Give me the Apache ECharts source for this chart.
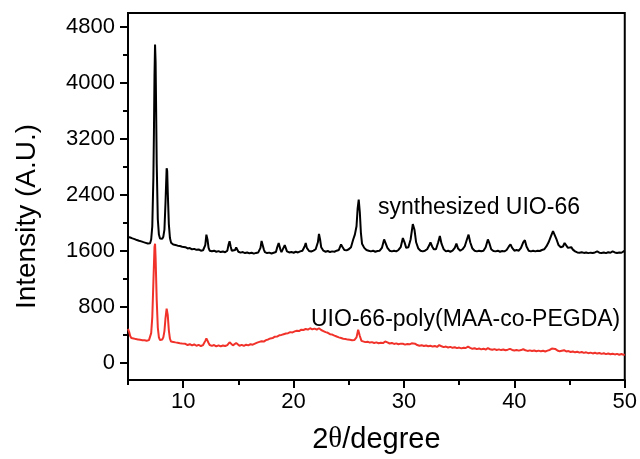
<!DOCTYPE html>
<html>
<head>
<meta charset="utf-8">
<script src="https://cdn.jsdelivr.net/npm/echarts@6/dist/echarts.min.js"></script>
<style>
html,body{margin:0;padding:0;background:#fff;}
#chart{width:640px;height:459px;}
</style>
</head>
<body>
<div id="chart"></div>
<script>
// 2theta (degree) and intensity pairs
const synthesizedUIO66 = [
[5.0,1795],[5.1,1780],[5.2,1788],[5.3,1770],[5.4,1776],[5.5,1760],[5.6,1765],[5.7,1748],[5.8,1752],[5.9,1738],
[6.0,1742],[6.1,1728],[6.2,1733],[6.3,1718],[6.4,1722],[6.5,1706],[6.6,1712],[6.7,1698],[6.8,1702],[6.9,1690],
[7.0,1705],[7.1,1760],[7.2,1950],[7.3,2650],[7.35,3300],[7.4,4100],[7.45,4550],[7.5,4300],[7.55,3600],[7.6,2850],
[7.7,2050],[7.8,1830],[7.9,1775],[8.0,1760],[8.1,1770],[8.2,1800],[8.3,1900],[8.4,2300],[8.5,2780],[8.55,2740],
[8.6,2450],[8.7,1980],[8.8,1780],[8.9,1715],[9.0,1695],[9.1,1688],[9.2,1676],[9.3,1682],[9.4,1668],[9.5,1672],
[9.6,1660],[9.7,1666],[9.8,1650],[9.9,1656],[10.0,1645],[10.2,1650],[10.4,1632],[10.6,1638],[10.8,1620],[11.0,1626],
[11.2,1612],[11.4,1618],[11.6,1600],[11.8,1606],[11.9,1610],[12.0,1680],[12.1,1830],[12.2,1760],[12.3,1640],[12.4,1600],
[12.6,1592],[12.8,1600],[13.0,1585],[13.2,1594],[13.4,1580],[13.6,1588],[13.8,1578],[14.0,1600],[14.1,1680],[14.2,1735],
[14.3,1660],[14.4,1600],[14.5,1590],[14.7,1610],[14.8,1645],[14.9,1620],[15.0,1585],[15.2,1572],[15.4,1580],[15.6,1566],
[15.8,1574],[16.0,1562],[16.2,1570],[16.4,1558],[16.6,1568],[16.8,1575],[17.0,1640],[17.1,1740],[17.2,1720],[17.3,1620],
[17.4,1580],[17.6,1566],[17.8,1572],[18.0,1560],[18.2,1570],[18.4,1580],[18.5,1640],[18.65,1710],[18.8,1620],[18.9,1580],
[19.0,1600],[19.2,1680],[19.3,1660],[19.4,1590],[19.6,1575],[19.8,1582],[20.0,1570],[20.2,1585],[20.4,1575],[20.6,1590],
[20.8,1600],[21.0,1660],[21.1,1710],[21.2,1640],[21.4,1595],[21.6,1588],[21.8,1600],[22.0,1620],[22.2,1720],[22.3,1840],
[22.4,1760],[22.5,1650],[22.7,1600],[22.9,1585],[23.1,1595],[23.3,1580],[23.5,1590],[23.7,1585],[23.9,1600],[24.1,1610],
[24.3,1690],[24.4,1660],[24.6,1610],[24.8,1605],[25.0,1620],[25.2,1650],[25.4,1760],[25.55,1830],[25.7,1950],[25.8,2200],
[25.9,2330],[26.0,2150],[26.1,1850],[26.2,1700],[26.4,1640],[26.6,1610],[26.8,1600],[27.0,1590],[27.2,1600],[27.4,1585],
[27.6,1595],[27.8,1600],[28.0,1640],[28.2,1760],[28.35,1740],[28.5,1640],[28.7,1600],[28.9,1590],[29.1,1600],[29.3,1590],
[29.5,1610],[29.7,1650],[29.9,1780],[30.05,1720],[30.2,1640],[30.4,1650],[30.6,1760],[30.8,1980],[30.95,1900],[31.1,1720],
[31.3,1630],[31.5,1600],[31.7,1590],[31.9,1600],[32.1,1620],[32.3,1680],[32.4,1720],[32.55,1660],[32.7,1620],[32.9,1620],
[33.1,1720],[33.25,1810],[33.4,1700],[33.6,1620],[33.8,1590],[34.0,1600],[34.2,1585],[34.4,1600],[34.6,1640],[34.75,1700],
[34.9,1630],[35.1,1600],[35.3,1620],[35.5,1660],[35.7,1760],[35.85,1830],[36.0,1720],[36.2,1630],[36.4,1600],[36.6,1590],
[36.8,1600],[37.0,1592],[37.2,1600],[37.4,1650],[37.6,1760],[37.75,1700],[37.9,1620],[38.1,1595],[38.3,1590],[38.5,1600],
[38.7,1585],[38.9,1595],[39.1,1590],[39.3,1610],[39.5,1660],[39.65,1690],[39.8,1640],[40.0,1600],[40.2,1610],[40.4,1600],
[40.6,1640],[40.8,1720],[40.95,1750],[41.1,1660],[41.3,1600],[41.5,1590],[41.7,1600],[41.9,1590],[42.1,1600],[42.3,1595],
[42.5,1610],[42.7,1620],[42.9,1660],[43.1,1720],[43.3,1800],[43.5,1880],[43.65,1860],[43.8,1770],[44.0,1680],[44.2,1650],
[44.4,1660],[44.55,1710],[44.7,1690],[44.85,1640],[45.0,1625],[45.15,1650],[45.3,1615],[45.5,1590],[45.7,1575],[45.9,1570],
[46.1,1578],[46.3,1568],[46.5,1575],[46.7,1565],[46.9,1572],[47.1,1568],[47.3,1575],[47.5,1590],[47.7,1572],[47.9,1568],
[48.1,1575],[48.3,1565],[48.5,1578],[48.7,1570],[48.9,1590],[49.1,1575],[49.3,1568],[49.5,1575],[49.7,1570],[49.9,1590],
[50.0,1600]
];
const uio66PolyMAAcoPEGDA = [
[5.0,480],[5.05,505],[5.1,440],[5.2,380],[5.3,350],[5.4,330],[5.5,345],[5.6,320],[5.7,335],[5.8,315],
[5.9,330],[6.0,310],[6.1,325],[6.2,305],[6.3,320],[6.4,300],[6.5,318],[6.6,298],[6.7,312],[6.8,300],
[6.9,320],[7.0,340],[7.1,420],[7.2,650],[7.3,1150],[7.4,1650],[7.45,1700],[7.5,1500],[7.6,900],[7.7,500],
[7.8,360],[7.9,320],[8.0,310],[8.1,330],[8.2,360],[8.3,450],[8.4,640],[8.5,770],[8.55,760],[8.6,680],
[8.7,460],[8.8,340],[8.9,300],[9.0,285],[9.1,295],[9.2,275],[9.3,288],[9.4,270],[9.5,282],[9.6,262],
[9.7,276],[9.8,258],[9.9,272],[10.0,255],[10.2,268],[10.4,250],[10.6,262],[10.8,245],[11.0,258],[11.2,240],
[11.4,252],[11.6,236],[11.8,250],[11.9,270],[12.0,310],[12.1,345],[12.2,330],[12.3,280],[12.4,250],[12.6,238],
[12.8,250],[13.0,232],[13.2,246],[13.4,230],[13.6,244],[13.8,236],[14.0,250],[14.2,290],[14.3,270],[14.5,245],
[14.8,280],[14.9,262],[15.1,240],[15.3,252],[15.5,238],[15.7,255],[15.9,245],[16.1,262],[16.3,255],[16.5,270],
[16.7,285],[16.9,295],[17.1,305],[17.3,300],[17.5,320],[17.7,330],[17.9,345],[18.1,350],[18.3,370],[18.5,372],
[18.7,390],[18.9,395],[19.1,405],[19.3,415],[19.5,420],[19.7,435],[19.9,430],[20.1,445],[20.3,455],[20.5,450],
[20.7,470],[20.9,465],[21.1,480],[21.3,470],[21.5,490],[21.7,475],[21.9,485],[22.1,470],[22.3,490],[22.5,465],
[22.7,450],[22.9,435],[23.1,425],[23.3,405],[23.5,400],[23.7,385],[23.9,372],[24.1,360],[24.3,350],[24.5,340],
[24.7,336],[24.9,328],[25.1,325],[25.3,318],[25.5,322],[25.7,360],[25.85,470],[26.0,380],[26.15,310],[26.3,300],
[26.5,292],[26.7,298],[26.9,285],[27.1,292],[27.3,280],[27.5,288],[27.7,276],[27.9,284],[28.1,278],[28.3,300],
[28.5,288],[28.7,272],[28.9,280],[29.1,266],[29.3,274],[29.5,262],[29.7,270],[29.9,268],[30.1,256],[30.3,264],
[30.5,260],[30.7,275],[30.85,300],[31.0,270],[31.2,250],[31.4,240],[31.6,248],[31.8,236],[32.0,244],[32.2,232],
[32.4,240],[32.6,228],[32.8,236],[33.0,224],[33.2,250],[33.4,232],[33.6,220],[33.8,228],[34.0,215],[34.2,224],
[34.4,210],[34.6,218],[34.8,206],[35.0,214],[35.2,202],[35.4,212],[35.6,208],[35.8,228],[36.0,210],[36.2,196],
[36.4,204],[36.6,192],[36.8,200],[37.0,188],[37.2,198],[37.4,186],[37.6,205],[37.8,190],[38.0,182],[38.2,192],
[38.4,180],[38.6,188],[38.8,178],[39.0,186],[39.2,176],[39.4,184],[39.6,195],[39.8,180],[40.0,172],[40.2,180],
[40.4,170],[40.6,178],[40.8,190],[41.0,176],[41.2,166],[41.4,174],[41.6,164],[41.8,172],[42.0,162],[42.2,170],
[42.4,160],[42.6,168],[42.8,158],[43.0,170],[43.2,180],[43.4,200],[43.55,220],[43.7,195],[43.9,172],[44.1,160],
[44.3,168],[44.5,176],[44.7,158],[44.9,164],[45.1,150],[45.3,158],[45.5,146],[45.7,154],[45.9,142],[46.1,150],
[46.3,138],[46.5,146],[46.7,134],[46.9,142],[47.1,130],[47.3,140],[47.5,128],[47.7,136],[47.9,124],[48.1,132],
[48.3,120],[48.5,130],[48.7,118],[48.9,126],[49.1,116],[49.3,124],[49.5,112],[49.7,122],[49.9,110],[50.0,118]
];
const xMajorTicks = [10, 20, 30, 40, 50];
const xMinorTicks = [5, 15, 25, 35, 45];
const yMajorTicks = [0, 800, 1600, 2400, 3200, 4000, 4800];
const yMinorTicks = [400, 1200, 2000, 2800, 3600, 4400];
const seriesNames = ['synthesized UIO-66', 'UIO-66-poly(MAA-co-PEGDA)'];

const FONT = '"Liberation Sans", Arial, sans-serif';
const chart = echarts.init(document.getElementById('chart'), null, {renderer: 'canvas'});

function xAxisDef(extra) {
  return Object.assign({
    type: 'value', min: 5, max: 50, position: 'bottom',
    splitLine: {show: false}
  }, extra);
}
function yAxisDef(extra) {
  return Object.assign({
    type: 'value', min: -250, max: 5000, position: 'left',
    splitLine: {show: false}
  }, extra);
}
const tickStyle = {color: '#000', width: 2};

chart.setOption({
  animation: false,
  backgroundColor: '#fff',
  grid: {left: 128, right: 14, top: 13, bottom: 77, show: true, borderColor: '#000', borderWidth: 2},
  xAxis: [
    xAxisDef({
      axisLine: {show: true, onZero: false, lineStyle: {color: '#000', width: 2}},
      axisTick: {show: true, inside: false, length: 8, customValues: xMajorTicks, lineStyle: tickStyle},
      axisLabel: {customValues: xMajorTicks, formatter: v => String(v), color: '#000', fontSize: 22, fontFamily: FONT, margin: 11},
      name: '2{t|θ}/degree', nameLocation: 'middle', nameGap: 45,
      nameTextStyle: {color: '#000', fontSize: 29, fontFamily: FONT,
        rich: {t: {fontSize: 29, fontFamily: '"Liberation Serif", "DejaVu Serif", serif', color: '#000'}}}
    }),
    xAxisDef({
      axisLine: {show: false, onZero: false},
      axisTick: {show: true, inside: false, length: 5, customValues: xMinorTicks, lineStyle: tickStyle},
      axisLabel: {show: false}
    })
  ],
  yAxis: [
    yAxisDef({
      axisLine: {show: true, onZero: false, lineStyle: {color: '#000', width: 2}},
      axisTick: {show: true, inside: false, length: 8, customValues: yMajorTicks, lineStyle: tickStyle},
      axisLabel: {customValues: yMajorTicks, formatter: v => String(v), color: '#000', fontSize: 22, fontFamily: FONT, margin: 13},
      name: 'Intensity (A.U.)', nameLocation: 'middle', nameGap: 87, nameRotate: 90,
      nameTextStyle: {color: '#000', fontSize: 28, fontFamily: FONT, padding: [0, 40, 0, 0]}
    }),
    yAxisDef({
      axisLine: {show: false, onZero: false},
      axisTick: {show: true, inside: false, length: 5, customValues: yMinorTicks, lineStyle: tickStyle},
      axisLabel: {show: false}
    })
  ],
  series: [
    {name: seriesNames[0], type: 'line', data: synthesizedUIO66, showSymbol: false, symbol: 'none',
     lineStyle: {color: '#000', width: 2}, z: 3},
    {name: seriesNames[1], type: 'line', data: uio66PolyMAAcoPEGDA, showSymbol: false, symbol: 'none',
     lineStyle: {color: '#f0322a', width: 2}, z: 2}
  ],
  graphic: [
    {type: 'text', left: 378, top: 196, style: {text: seriesNames[0], fill: '#000', font: '23px ' + FONT}},
    {type: 'text', left: 311, top: 308, style: {text: seriesNames[1], fill: '#000', font: '23px ' + FONT}}
  ]
});
</script>
</body>
</html>
